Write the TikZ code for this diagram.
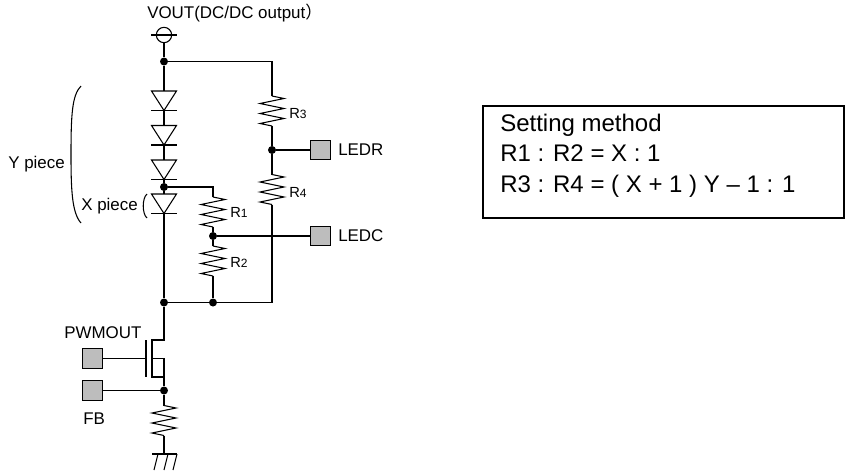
\documentclass[tikz,border=0pt]{standalone}
\usepackage{fontspec}
\setmainfont{Liberation Sans}
\newfontfamily\cjkfont{Noto Sans CJK JP}
\definecolor{padgray}{HTML}{BDBDBD}
\tikzset{
  x=0.75pt,y=-0.75pt,
  wire/.style={line width=0.8pt,line join=miter},
  dot/.style={circle,fill=black,inner sep=0pt,minimum size=6pt},
  pad/.style={draw=black,line width=0.9pt,fill=padgray,inner sep=0pt,minimum size=14.5pt},
  lab/.style={inner sep=0pt,font=\fontsize{12.7pt}{15pt}\selectfont},
  rlab/.style={inner sep=0pt,anchor=west,font=\fontsize{11pt}{12pt}\selectfont},
  boxtext/.style={anchor=base west,inner sep=0pt,font=\fontsize{18pt}{22pt}\selectfont},
  resistor/.pic={
    \coordinate (-a) at (0,0);
    \coordinate (-b) at (0,30);
    \draw[wire] (0,0) -- (12,2.5) -- (-12,7.5) -- (12,12.5) -- (-12,17.5) -- (12,22.5) -- (-12,27.5) -- (0,30);
  },
  diode/.pic={
    \coordinate (-a) at (0,0);
    \coordinate (-k) at (0,19.5);
    \draw[wire] (-12.5,0) -- (12.5,0) -- (0,19.5) -- cycle;
    \draw[wire] (-13,19.5) -- (13,19.5);
  }
}
\newcommand{\rsub}[2]{#1{\fontsize{9pt}{9pt}\selectfont #2}}
\begin{document}
\begin{tikzpicture}
\useasboundingbox (0,0) rectangle (847,475);
% terminals and junctions
\node[circle,draw=black,line width=0.8pt,inner sep=0pt,minimum size=11.5pt] (vout) at (164,35) {};
\draw[wire] (151,35) -- (177,35);
\node[dot] (top) at (164,61.5) {};
\node[dot] (mid) at (164,187) {};
\node[dot] (bot) at (164,302.5) {};
\node[dot] (botr) at (213,302.5) {};
\node[dot] (jr12) at (213,236) {};
\node[dot] (jr34) at (272,150) {};
\node[dot] (fbj) at (164,390.5) {};
\coordinate (topr) at (272,61.5);
\coordinate (botrr) at (272,302.5);
\coordinate (r1t) at (213,187);
% pads
\node[pad] (ledr) at (320.5,150) {};
\node[pad] (ledc) at (320.5,236) {};
\node[pad] (pwm) at (92.5,358.5) {};
\node[pad] (fb) at (92.5,390.5) {};
% diodes
\pic (d1) at (164,91) {diode};
\pic (d2) at (164,125.5) {diode};
\pic (d3) at (164,160) {diode};
\pic (d4) at (164,194) {diode};
% resistors
\pic (r3) at (272,96) {resistor};
\pic (r4) at (272,174.5) {resistor};
\pic (r1) at (213,197) {resistor};
\pic (r2) at (213,246) {resistor};
\pic (rs) at (164,405.5) {resistor};
% wires
\draw[wire] (vout) -- (top) -- (d1-a);
\draw[wire] (d1-k) -- (d2-a);
\draw[wire] (d2-k) -- (d3-a);
\draw[wire] (d3-k) -- (mid) -- (d4-a);
\draw[wire] (d4-k) -- (bot);
\draw[wire] (top) -- (topr) -- (r3-a);
\draw[wire] (r3-b) -- (jr34) -- (r4-a);
\draw[wire] (r4-b) -- (botrr) -- (botr) -- (bot);
\draw[wire] (mid) -- (r1t) -- (r1-a);
\draw[wire] (r1-b) -- (jr12) -- (r2-a);
\draw[wire] (r2-b) -- (botr);
\draw[wire] (jr34) -- (ledr);
\draw[wire] (jr12) -- (ledc);
% transistor
\coordinate (gate) at (146,358.5);
\coordinate (dr) at (164,340);
\coordinate (drc) at (152,340);
\coordinate (src) at (164,358.5);
\coordinate (srb) at (164,377);
\draw[wire] (bot) -- (dr) -- (drc) -- (152,377) -- (srb);
\draw[wire] (146,340) -- (146,377);
\draw[wire] (pwm) -- (gate);
\draw[wire] (152,358.5) -- (src) -- (srb) -- (fbj);
\draw[wire] (fb) -- (fbj);
\draw[wire] (fbj) -- (rs-a);
% ground
\coordinate (gnd) at (164,454);
\draw[wire] (rs-b) -- (gnd);
\draw[wire] (152,454) -- (177,454);
\draw[wire] (158,454) -- (154,470) (168,454) -- (164,470) (177,454) -- (173,470);
% brackets
\draw[wire] (81,86) .. controls (72,95) and (71,115) .. (71,155) .. controls (71,190) and (72,213) .. (81,223);
\draw[wire] (147,194) .. controls (142,198) and (142,214) .. (147,218);
% labels
\node[lab,anchor=west] (tv) at (147,13) {VOUT(DC/DC output{\cjkfont ）}};
\node[lab,anchor=west] (ty) at (8,164) {Y piece};
\node[lab,anchor=west] (tx) at (81,206) {X piece};
\node[lab,anchor=west] (tp) at (64,333) {PWMOUT};
\node[lab,anchor=west] (tf) at (83,419) {FB};
\node[lab,anchor=west] (tr) at (338,150) {LEDR};
\node[lab,anchor=west] (tc) at (338,236) {LEDC};
\node[rlab] (l3) at (289,114) {\rsub{R}{3}};
\node[rlab] (l4) at (289,192) {\rsub{R}{4}};
\node[rlab] (l1) at (230,212) {\rsub{R}{1}};
\node[rlab] (l2) at (230,262) {\rsub{R}{2}};
% setting box
\draw[line width=1pt] (483,106) rectangle (844,218);
\node[boxtext] (s1) at (500,131) {Setting method};
\node[boxtext] (s2) at (500,161) {R1 : R2 = X : 1};
\node[boxtext] (s3) at (500,192.5) {R3 : R4 = ( X + 1 ) Y – 1 : 1};
\end{tikzpicture}
\end{document}
